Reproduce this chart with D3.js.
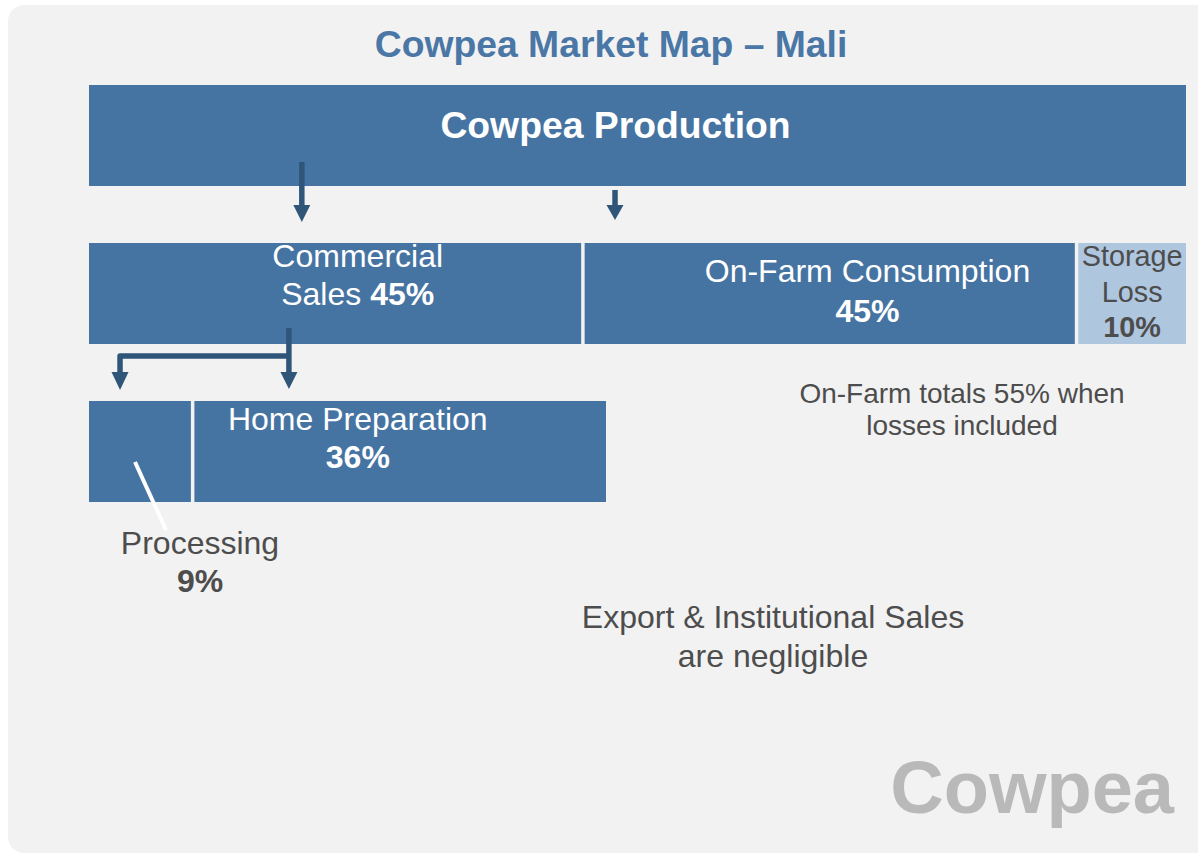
<!DOCTYPE html>
<html>
<head>
<meta charset="utf-8">
<script src="https://cdn.jsdelivr.net/npm/d3@7"></script>
<style>
  html, body { margin: 0; padding: 0; background: #ffffff; }
  svg { display: block; font-family: "Liberation Sans", Arial, sans-serif; }
</style>
</head>
<body>
<div id="chart"></div>
<script>
// ---------------- DATA ----------------
const chartTitle = "Cowpea Market Map – Mali";
const stages = ["Production", "Channels", "Uses"];

const productionNames = ["Cowpea Production"];
const productionShares = [100];

const channelNames = ["Commercial Sales", "On-Farm Consumption", "Storage Loss"];
const channelShares = [45, 45, 10];
const channelLabelLines = [["Commercial", "Sales"], ["On-Farm Consumption"], ["Storage", "Loss"]];
const channelPctInline = [true, false, false];

const useNames = ["Processing", "Home Preparation"];
const useShares = [9, 36];
const useLabelLines = [["Processing"], ["Home Preparation"]];

const onFarmNote = ["On-Farm totals 55% when", "losses included"];
const exportNote = ["Export & Institutional Sales", "are negligible"];
const watermark = "Cowpea";

// ---------------- LAYOUT ----------------
const W = 1198, H = 854;
const C = {
  bar: "#4674a2", light: "#afc6df", arrow: "#2f5679",
  panel: "#f2f2f2", title: "#4a77a5", dark: "#4d4d4d", mark: "#b9b9b9"
};

const svg = d3.select("#chart").append("svg").attr("width", W).attr("height", H);

svg.append("rect").attr("x", 8).attr("y", 5).attr("width", W + 40).attr("height", H - 6)
  .attr("rx", 16).attr("fill", C.panel);

const x = d3.scaleLinear().domain([0, 100]).range([89, 1186]);
const x3 = d3.scaleLinear().domain([0, d3.sum(useShares)]).range([89, 606]);
const y = d3.scaleBand().domain(stages).range([85, 502]).paddingInner(57 / 158).paddingOuter(0);

function segments(names, shares, scale, stage) {
  const ends = d3.cumsum(shares);
  return names.map((n, i) => ({
    name: n, share: shares[i], i,
    x0: scale(ends[i] - shares[i]) + (i > 0 ? 2 : 0),
    x1: scale(ends[i]) - (i < names.length - 1 ? 1.5 : 0),
    y0: y(stage), h: y.bandwidth()
  }));
}

const prodSegs = segments(productionNames, productionShares, x, "Production");
const chanSegs = segments(channelNames, channelShares, x, "Channels");
const useSegs = segments(useNames, useShares, x3, "Uses");

// title
svg.append("text").attr("x", 611).attr("y", 57).attr("text-anchor", "middle")
  .attr("font-size", 37.3).attr("font-weight", "bold").attr("fill", C.title).text(chartTitle);

// bars
function drawBars(segs, fillFn) {
  svg.append("g").selectAll("rect").data(segs).join("rect")
    .attr("x", d => d.x0).attr("y", d => d.y0)
    .attr("width", d => d.x1 - d.x0).attr("height", d => d.h)
    .attr("fill", fillFn);
}
drawBars(prodSegs, () => C.bar);
drawBars(chanSegs, (d, i) => i === 2 ? C.light : C.bar);
drawBars(useSegs, () => C.bar);

// production label
prodSegs.forEach(d => {
  svg.append("text").attr("x", (d.x0 + d.x1) / 2 - 22).attr("y", d.y0 + 53)
    .attr("text-anchor", "middle").attr("font-size", 37.3).attr("font-weight", "bold")
    .attr("fill", "#fff").text(d.name);
});

// multi-line label helper
function label(cx, baselines, lines, size, color) {
  const t = svg.append("text").attr("text-anchor", "middle").attr("font-size", size).attr("fill", color);
  lines.forEach((parts, k) => {
    const line = t.append("tspan").attr("x", cx).attr("y", baselines[k]);
    parts.forEach(p => line.append("tspan").attr("font-weight", p[1] ? "bold" : "normal").text(p[0]));
  });
  return t;
}

// channel labels
const chanLayout = [
  { fx: 0.546, dy: [24, 62], size: 32, color: "#fff" },
  { fx: 0.577, dy: [39, 79], size: 32, color: "#fff" },
  { fx: 0.5, dy: [23, 59, 94], size: 28.8, color: C.dark }
];
chanSegs.forEach((d, i) => {
  const L = chanLayout[i];
  const textLines = channelLabelLines[i].map(s => [[s, 0]]);
  const pct = `${d.share}%`;
  if (channelPctInline[i]) textLines[textLines.length - 1].push([" " + pct, 1]);
  else textLines.push([[pct, 1]]);
  label(d.x0 + (d.x1 - d.x0) * L.fx, L.dy.map(v => d.y0 + v), textLines, L.size, L.color);
});

// use labels
const useLayout = [
  { cx: 200, dy: [153, 191], size: 32, color: C.dark },
  { fx: 0.397, dy: [29, 67], size: 32, color: "#fff" }
];
useSegs.forEach((d, i) => {
  const L = useLayout[i];
  const textLines = useLabelLines[i].map(s => [[s, 0]]);
  textLines.push([[`${d.share}%`, 1]]);
  const cx = L.cx !== undefined ? L.cx : d.x0 + (d.x1 - d.x0) * L.fx;
  label(cx, L.dy.map(v => d.y0 + v), textLines, L.size, L.color);
});

// leader line for Processing
svg.append("line").attr("x1", 135).attr("y1", useSegs[0].y0 + 61)
  .attr("x2", 166).attr("y2", useSegs[0].y0 + 129)
  .attr("stroke", "#fff").attr("stroke-width", 4);

// arrows
const ag = svg.append("g").attr("fill", "none").attr("stroke", C.arrow).attr("stroke-width", 5.5);
function head(cx, top, tip) {
  svg.append("path").attr("d", `M${cx - 8.5},${top}L${cx + 8.5},${top}L${cx},${tip}Z`).attr("fill", C.arrow);
}
const prodBottom = prodSegs[0].y0 + prodSegs[0].h;
const chanTop = chanSegs[0].y0;
const chanBottom = chanTop + chanSegs[0].h;
const useTop = useSegs[0].y0;

// production -> commercial
const a1 = x(19.4);
ag.append("path").attr("d", `M${a1},${prodBottom - 24}V${chanTop - 37}`);
head(a1, chanTop - 38, chanTop - 21);
// production -> on-farm
const a2 = x(47.95);
ag.append("path").attr("d", `M${a2},${prodBottom + 4}V${chanTop - 37}`);
head(a2, chanTop - 38, chanTop - 23);
// commercial -> home preparation / processing
const a3 = x3(17.4), a4 = x3(2.7);
ag.append("path").attr("d", `M${a3},${chanBottom - 16}V${useTop - 28}`);
ag.append("path").attr("d", `M${a3},${chanBottom + 12}H${a4}V${useTop - 28}`).attr("stroke-linejoin", "round");
head(a3, useTop - 29, useTop - 12);
head(a4, useTop - 29, useTop - 11);

// notes
label(962, [403, 435], onFarmNote.map(s => [[s, 0]]), 28, C.dark);
label(773, [628, 667], exportNote.map(s => [[s, 0]]), 32, C.dark);

// watermark
svg.append("text").attr("x", 1174).attr("y", 813).attr("text-anchor", "end")
  .attr("font-size", 74).attr("font-weight", "bold").attr("fill", C.mark).text(watermark);
</script>
</body>
</html>
